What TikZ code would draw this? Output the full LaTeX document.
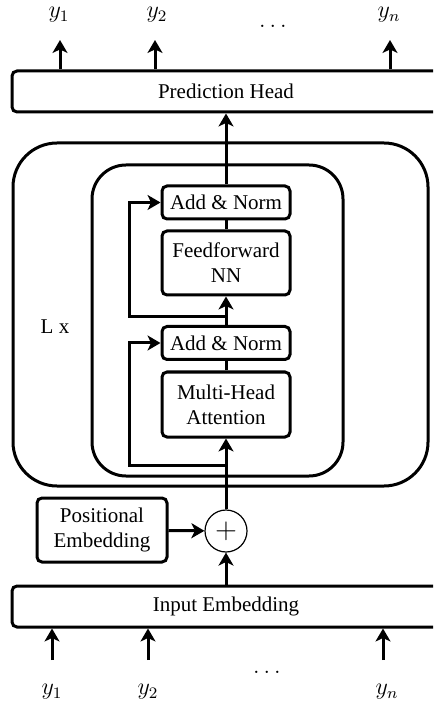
\documentclass[tikz,border=0pt]{standalone}
\usepackage{fontspec}
\setmainfont{Liberation Serif}
\usetikzlibrary{arrows.meta,calc}
\begin{document}
\begin{tikzpicture}[x=0.5pt,y=-0.5pt,
    font=\fontsize{10.5}{12.6}\selectfont,
    box/.style={draw,line width=1.5pt,rounded corners=2.5pt,inner sep=0pt,align=center,minimum width=64pt},
    wide/.style={box,minimum width=214pt,minimum height=20.5pt},
    lbl/.style={font=\large},
    arr/.style={line width=1.5pt,-{Stealth[length=6.5pt,width=7.5pt,inset=1.8pt]}},
    ln/.style={line width=1.5pt}]
    \clip (0,0) rectangle (433,704);
    % blocks
    \node[box,minimum width=207.5pt,minimum height=171.5pt,rounded corners=22pt] (outer) at (220.5,314.5) {};
    \node[box,minimum width=125.5pt,minimum height=155.5pt,rounded corners=17pt] (inner) at (217.5,320.5) {};
    \node at (55,327) {L x};
    \node[wide] (pred) at (226,91.5) {Prediction Head};
    \node[wide] (inp) at (226,606.5) {Input Embedding};
    \node[box,minimum height=16.5pt] (an1) at (226,202.5) {Add \& Norm};
    \node[box,minimum height=32pt] (ff) at (226,263) {Feedforward\\NN};
    \node[box,minimum height=16.5pt] (an2) at (226,343) {Add \& Norm};
    \node[box,minimum height=32.5pt] (mha) at (226,404.5) {Multi-Head\\Attention};
    \node[box,minimum width=65pt,minimum height=32pt] (pos) at (102,530) {Positional\\Embedding};
    \node[draw,circle,line width=0.6pt,minimum size=21pt,inner sep=0pt] (plus) at (226,531) {\Large$+$};
    % main path
    \coordinate (br1) at (226,317);
    \coordinate (br2) at (226,465);
    \coordinate (lft) at (129,0);
    \draw[arr] (inp.north -| plus) -- (plus);
    \draw[arr] (pos) -- (plus);
    \draw[arr] (plus) -- (mha);
    \draw[ln] (mha) -- (an2);
    \draw[arr] (an2) -- (ff);
    \draw[ln] (ff) -- (an1);
    \draw[arr] (an1) -- (pred);
    % residuals
    \draw[arr] (br2) -- (br2 -| lft) |- (an2.west);
    \draw[arr] (br1) -- (br1 -| lft) |- (an1.west);
    % outputs
    \node[lbl] (o1) at (59,15) {$y_1$};
    \node[lbl] (o2) at (157,15) {$y_2$};
    \node[lbl] (o3) at (273,26) {$\ldots$};
    \node[lbl] (on) at (389,15) {$y_n$};
    \foreach \t/\x in {t1/60,t2/155,tn/390}
        \coordinate (\t) at (\x,40);
    \foreach \t in {t1,t2,tn}
        \draw[arr] (pred.north -| \t) -- (\t);
    % inputs
    \node[lbl] (i1) at (52,692) {$y_1$};
    \node[lbl] (i2) at (148,692) {$y_2$};
    \node[lbl] (i3) at (267,672) {$\ldots$};
    \node[lbl] (in) at (387,692) {$y_n$};
    \foreach \s/\x in {s1/52,s2/148,sn/383}
        \coordinate (\s) at (\x,660);
    \foreach \s in {s1,s2,sn}
        \draw[arr] (\s) -- (inp.south -| \s);
\end{tikzpicture}
\end{document}
